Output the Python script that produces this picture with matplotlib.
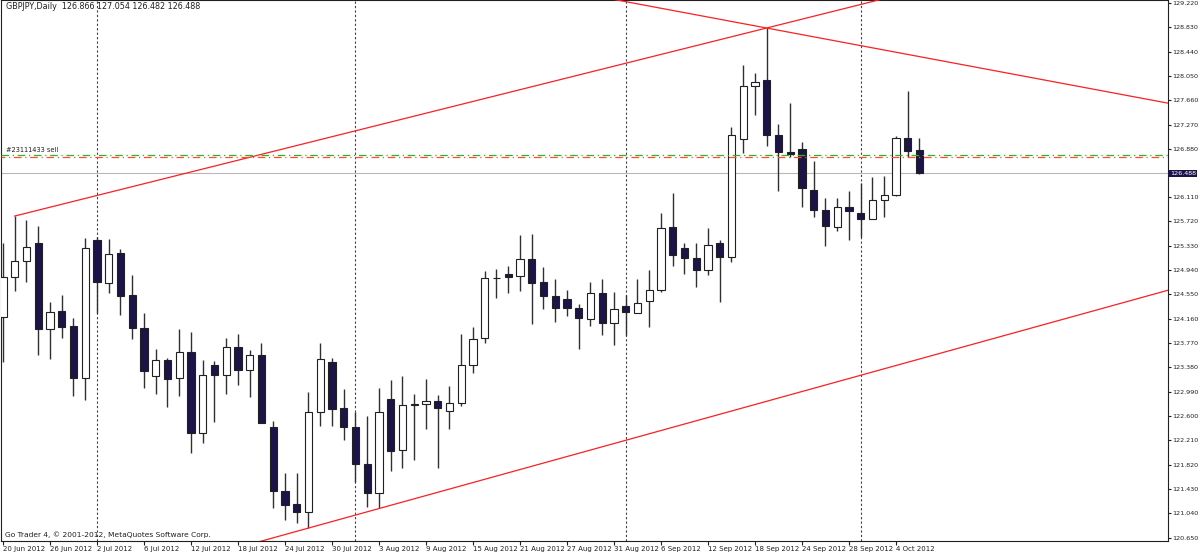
import matplotlib.pyplot as plt
import matplotlib.transforms as mtransforms

# GBPJPY daily bars, 20 Jun 2012 .. 8 Oct 2012
opens = [124.188, 124.829, 125.085, 125.374, 123.995, 124.284, 124.044, 123.210, 125.422, 124.733,
         125.213, 124.540, 124.011, 123.242, 123.499, 123.210, 123.627, 122.329, 123.419, 123.258,
         123.707, 123.338, 123.579, 122.425, 121.399, 121.191, 121.063, 122.665, 123.467, 122.729,
         122.425, 121.832, 121.367, 122.874, 122.056, 122.777, 122.794, 122.842, 122.681, 122.810,
         123.419, 123.851, 124.805, 124.877, 124.845, 125.117, 124.749, 124.524, 124.476, 124.332,
         124.156, 124.572, 124.092, 124.364, 124.252, 124.444, 124.620, 125.630, 125.294, 125.133,
         124.941, 125.374, 125.149, 127.040, 127.890, 127.986, 127.104, 126.832, 126.880, 126.223,
         125.903, 125.630, 125.951, 125.854, 125.758, 126.063, 126.143, 127.056, 126.866]
highs = [125.374, 125.806, 125.742, 125.646, 124.428, 124.540, 124.172, 125.454, 125.470, 125.438,
         125.278, 124.861, 124.252, 123.675, 123.531, 123.995, 123.947, 123.499, 123.483, 123.851,
         123.915, 123.659, 123.771, 122.521, 121.688, 121.688, 122.986, 123.771, 123.531, 123.034,
         122.665, 122.601, 123.050, 123.178, 123.242, 122.954, 123.194, 122.938, 123.082, 123.915,
         124.028, 124.925, 124.957, 125.005, 125.502, 125.518, 124.989, 124.797, 124.620, 124.396,
         124.749, 124.797, 124.588, 124.540, 124.797, 124.941, 125.854, 126.175, 125.374, 125.374,
         125.614, 125.422, 127.233, 128.226, 128.098, 128.819, 127.281, 127.617, 126.992, 126.688,
         126.095, 126.095, 126.207, 126.335, 126.431, 126.447, 127.088, 127.810, 127.054]
lows = [123.467, 124.604, 124.749, 123.579, 123.515, 123.851, 122.922, 122.858, 124.252, 124.572,
        124.220, 123.835, 123.050, 122.954, 122.745, 122.922, 122.008, 122.168, 122.505, 122.954,
        123.098, 122.906, 122.489, 121.127, 120.934, 120.886, 120.806, 122.441, 122.441, 122.217,
        121.543, 121.143, 121.127, 121.720, 121.768, 121.896, 122.393, 121.768, 122.393, 122.761,
        123.290, 123.771, 124.492, 124.572, 124.604, 124.076, 124.316, 124.108, 124.204, 123.675,
        124.044, 123.899, 123.739, 123.899, 124.252, 124.028, 124.588, 125.005, 124.877, 124.669,
        124.861, 124.428, 125.069, 126.816, 127.425, 126.928, 126.207, 126.752, 125.951, 125.790,
        125.326, 125.566, 125.422, 125.470, 125.758, 125.790, 126.127, 126.752, 126.482]
closes = [124.829, 125.085, 125.310, 123.995, 124.268, 124.028, 123.210, 125.294, 124.749, 125.197,
          124.524, 124.011, 123.322, 123.499, 123.194, 123.627, 122.329, 123.258, 123.258, 123.707,
          123.338, 123.579, 122.489, 121.399, 121.175, 121.063, 122.665, 123.515, 122.713, 122.425,
          121.832, 121.367, 122.665, 122.040, 122.777, 122.794, 122.842, 122.729, 122.810, 123.419,
          123.835, 124.813, 124.813, 124.829, 125.117, 124.733, 124.524, 124.332, 124.332, 124.172,
          124.572, 124.092, 124.316, 124.268, 124.412, 124.620, 125.614, 125.181, 125.133, 124.941,
          125.342, 125.149, 127.104, 127.890, 127.954, 127.104, 126.832, 126.800, 126.255, 125.903,
          125.646, 125.951, 125.887, 125.758, 126.063, 126.143, 127.056, 126.848, 126.488]

date_labels = ['20 Jun 2012', '26 Jun 2012', '2 Jul 2012', '6 Jul 2012', '12 Jul 2012',
               '18 Jul 2012', '24 Jul 2012', '30 Jul 2012', '3 Aug 2012', '9 Aug 2012',
               '15 Aug 2012', '21 Aug 2012', '27 Aug 2012', '31 Aug 2012', '6 Sep 2012',
               '12 Sep 2012', '18 Sep 2012', '24 Sep 2012', '28 Sep 2012', '4 Oct 2012']
price_ticks = [129.220, 128.830, 128.440, 128.050, 127.660, 127.270, 126.880,
               126.110, 125.720, 125.330, 124.940, 124.550, 124.160, 123.770, 123.380,
               122.990, 122.600, 122.210, 121.820, 121.430, 121.040, 120.650]
month_starts = [8, 30, 53, 73]  # 2 Jul, 1 Aug, 3 Sep, 1 Oct

# trend lines: (bar, price) -> (bar, price)
upper_line = [(1, 125.806), (100, 130.468)]
lower_line = [(20, 120.493), (100, 124.661)]
falling_line = [(50, 129.347), (100, 127.585)]

order_price = 126.784
stop_price = 126.752
bid = 126.488

bear = '#1c1448'
fs = 5.0

fig = plt.figure(figsize=(12, 5.53), dpi=100)
ax = fig.add_axes([1/1200, 12/553, 1167/1200, 541/553])

n = len(opens)
for i in range(n):
    o, h, l, c = opens[i], highs[i], lows[i], closes[i]
    ax.vlines(i, l, h, color='#303030', lw=1, zorder=2)
    lo = min(o, c)
    ht = abs(c - o)
    face = 'white' if c >= o else bear
    ax.bar(i, ht, bottom=lo, width=0.62, facecolor=face, edgecolor='#202020',
           lw=0.8, zorder=3)

for m in month_starts:
    ax.axvline(m, color='#404040', lw=0.8, ls=(0, (2, 2)), zorder=1)

for line in [upper_line, lower_line, falling_line]:
    xs = [p[0] for p in line]
    ys = [p[1] for p in line]
    ax.plot(xs, ys, color='#ff2020', lw=0.9, zorder=4)

ax.axhline(order_price, color='#30b030', lw=0.9, ls=(0, (6, 3, 1, 3)), zorder=4)
ax.axhline(stop_price, color='#ff5020', lw=0.9, ls=(3, (6, 3, 1, 3)), zorder=4)
ax.axhline(bid, color='#b8b8b8', lw=0.8, zorder=1)

ax.set_xlim(-0.17, 99.15)
ax.set_ylim(120.598, 129.268)

ax.yaxis.tick_right()
ax.set_yticks(price_ticks, labels=[f'{p:.3f}' for p in price_ticks])
ax.tick_params(axis='y', direction='out', length=2, labelsize=4.6, pad=1,
               color='#202020', labelcolor='#202020')
ax.set_xticks(range(0, 4 * len(date_labels), 4), labels=date_labels)
ax.tick_params(axis='x', direction='out', length=3, labelsize=fs, pad=0.5,
               color='#202020', labelcolor='#202020')
for lab in ax.get_xticklabels():
    lab.set_ha('left')

for s in ax.spines.values():
    s.set_color('#202020')
    s.set_linewidth(0.8)

yt = mtransforms.blended_transform_factory(ax.transAxes, ax.transData)
ax.text(1.0015, bid, f'{bid:.3f}', transform=yt, ha='left', va='center', fontsize=4.6,
        color='white', bbox=dict(facecolor=bear, edgecolor='none', pad=1.0), zorder=6,
        clip_on=False)
ax.text(0.004, order_price + 0.03, '#23111433 sell', transform=yt, ha='left', va='bottom',
        fontsize=4.8, color='#202020')

ax.text(0.004, 0.997, 'GBPJPY,Daily  126.866 127.054 126.482 126.488', transform=ax.transAxes,
        ha='left', va='top', fontsize=5.8, color='#202020')
ax.text(0.003, 0.006, 'Go Trader 4, \u00a9 2001-2012, MetaQuotes Software Corp.',
        transform=ax.transAxes, ha='left', va='bottom', fontsize=5.4, color='#202020')

fig.savefig('out.png', dpi=100)
